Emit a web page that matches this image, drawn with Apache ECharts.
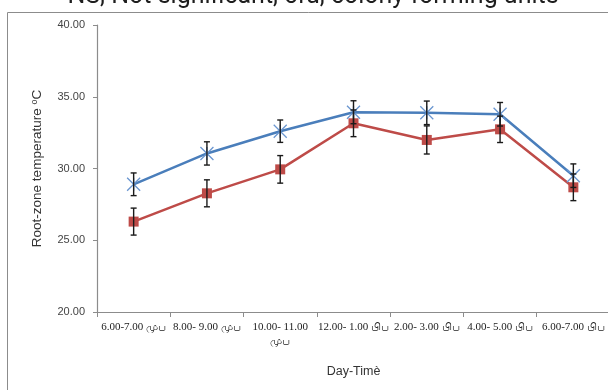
<!DOCTYPE html>
<html>
<head>
<meta charset="utf-8">
<script src="https://cdn.jsdelivr.net/npm/echarts@6/dist/echarts.min.js"></script>
<style>html,body{margin:0;padding:0;background:#fff}#c{width:608px;height:390px}</style>
</head>
<body>
<div id="c"></div>
<script>
const categories = ['6.00-7.00 முப', '8.00- 9.00 முப', '10.00- 11.00 முப', '12.00- 1.00 பிப', '2.00- 3.00 பிப', '4.00- 5.00 பிப', '6.00-7.00 பிப'];
const seriesA = [28.9, 31.05, 32.6, 33.92, 33.88, 33.78, 29.5];
const errorA = [0.79, 0.81, 0.78, 0.8, 0.82, 0.82, 0.82];
const seriesB = [26.3, 28.27, 29.94, 33.15, 31.99, 32.73, 28.69];
const errorB = [0.94, 0.94, 0.96, 0.93, 0.98, 0.92, 0.93];
const yTicks = [20, 25, 30, 35, 40];

const chart = echarts.init(document.getElementById('c'));
function errBar(data, err) {
  return {
    type: 'custom',
    z: 5,
    data: data.map((v, i) => [i, v - err[i], v + err[i]]),
    renderItem: function (params, api) {
      const lo = api.coord([api.value(0), api.value(1)]);
      const hi = api.coord([api.value(0), api.value(2)]);
      const w = 3;
      const st = { stroke: '#1a1a1a', lineWidth: 1.4 };
      return {
        type: 'group',
        children: [
          { type: 'line', shape: { x1: lo[0], y1: lo[1], x2: hi[0], y2: hi[1] }, style: st },
          { type: 'line', shape: { x1: lo[0] - w, y1: lo[1], x2: lo[0] + w, y2: lo[1] }, style: st },
          { type: 'line', shape: { x1: hi[0] - w, y1: hi[1], x2: hi[0] + w, y2: hi[1] }, style: st }
        ]
      };
    }
  };
}
chart.setOption({
  animation: false,
  grid: { left: 97, top: 25, width: 513, height: 287, outerBoundsMode: 'none', containLabel: false },
  graphic: [
    { type: 'rect', shape: { x: 7.5, y: 12.5, width: 700, height: 500 }, style: { fill: 'none', stroke: '#8c8c8c', lineWidth: 1 }, z: -1 },
    { type: 'text', x: 313, y: 9, style: { text: 'NS, Not significant, cfu, colony forming units', font: '25px Roboto, Arial, sans-serif', fill: '#1e1e1e', textAlign: 'center', textVerticalAlign: 'bottom' } }
  ],
  xAxis: {
    type: 'category',
    data: categories,
    boundaryGap: true,
    name: 'Day-Timè',
    nameLocation: 'middle',
    nameGap: 53,
    nameTextStyle: { fontFamily: 'Liberation Sans', fontSize: 12.5, color: '#333' },
    axisLine: { lineStyle: { color: '#8c8c8c', width: 1.2 } },
    axisTick: { show: true, length: 5, lineStyle: { color: '#8c8c8c' } },
    axisLabel: {
      interval: 0, hideOverlap: false, fontFamily: 'Liberation Serif', fontSize: 11, color: '#222', margin: 8, lineHeight: 14,
      formatter: (v, i) => i === 2 ? v.replace(' முப', '\nமுப') : v
    }
  },
  yAxis: {
    type: 'value',
    min: 20, max: 40, interval: 5,
    name: '{a|Root-zone temperature }{s|o}{a|C}',
    nameLocation: 'middle',
    nameGap: 52,
    nameRotate: 90,
    nameTextStyle: { rich: { a: { fontFamily: 'Liberation Sans', fontSize: 13.5, color: '#333' }, s: { fontFamily: 'Liberation Sans', fontSize: 9, color: '#333', verticalAlign: 'top', padding: [0, 0, 6, 0] } } },
    axisLine: { show: true, lineStyle: { color: '#8c8c8c', width: 1.2 } },
    axisTick: { show: true, length: 4, lineStyle: { color: '#8c8c8c' } },
    splitLine: { show: false },
    axisLabel: { fontFamily: 'Liberation Sans', fontSize: 11, color: '#444', margin: 12, formatter: v => yTicks.includes(v) ? v.toFixed(2) : '' }
  },
  series: [
    {
      type: 'line', data: seriesA, z: 3,
      lineStyle: { color: '#4a7ebb', width: 2.5 },
      symbol: 'path://M0,0L10,10M10,0L0,10M5,0L5,10', symbolSize: 13,
      itemStyle: { color: 'rgba(0,0,0,0)', borderColor: '#6a96d0', borderWidth: 1.3 }
    },
    {
      type: 'line', data: seriesB, z: 3,
      lineStyle: { color: '#be4b48', width: 2.5 },
      symbol: 'rect', symbolSize: 10,
      itemStyle: { color: '#be4b48', borderWidth: 0 }
    },
    errBar(seriesA, errorA),
    errBar(seriesB, errorB)
  ]
});
</script>
</body>
</html>
